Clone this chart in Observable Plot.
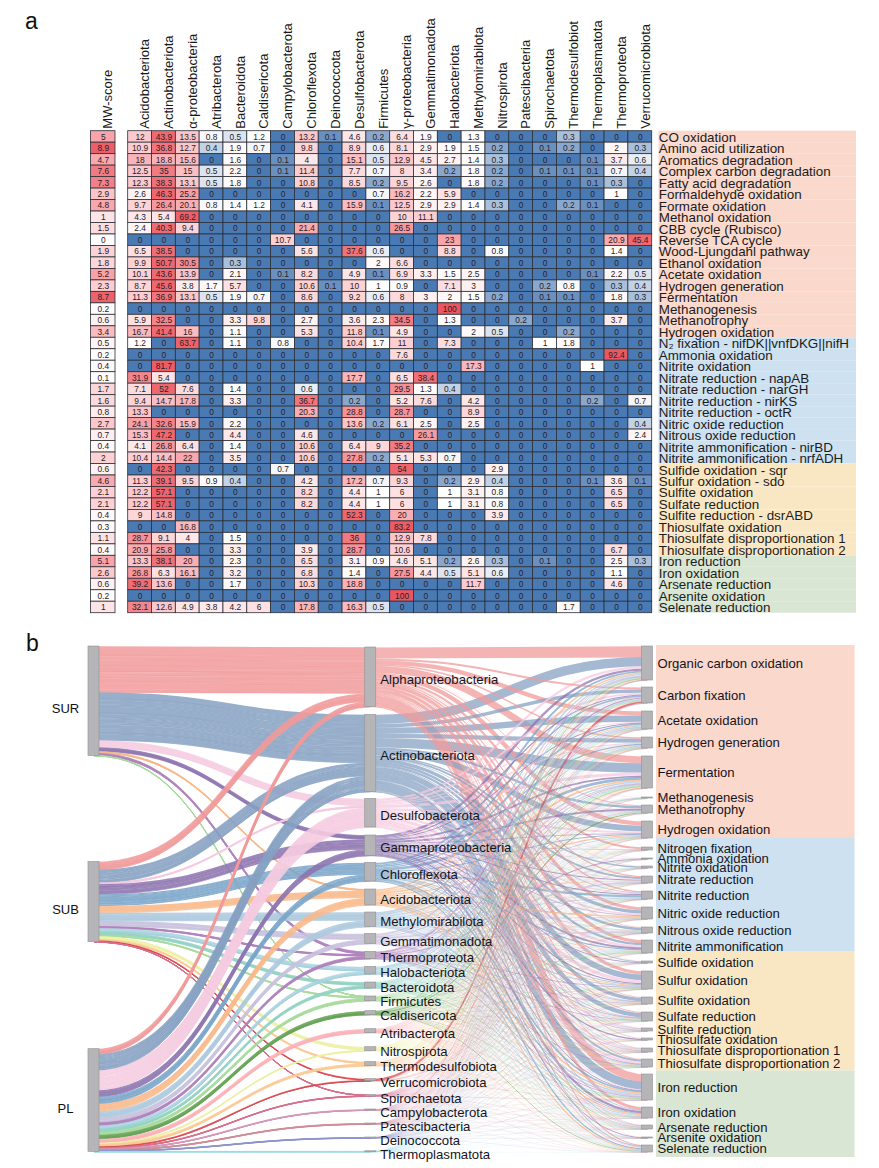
<!DOCTYPE html>
<html><head><meta charset="utf-8">
<script src="https://cdn.jsdelivr.net/npm/d3@7"></script>
<script src="https://cdn.jsdelivr.net/npm/@observablehq/plot@0.6"></script>
<style>
html,body{margin:0;padding:0;background:#fff}
#page{position:relative;width:879px;height:1168px;overflow:hidden;font-family:"Liberation Sans",Arial,sans-serif}
.letter{position:absolute;font-size:23px;line-height:23px;color:#111}
</style></head><body><div id="page"></div>
<script>
// ---------- DATA ----------
const heatColumns=["Acidobacteriota","Actinobacteriota","α-proteobacteria","Atribacterota","Bacteroidota","Caldisericota","Campylobacterota","Chloroflexota","Deinococcota","Desulfobacterota","Firmicutes","γ-proteobacteria","Gemmatimonadota","Halobacteriota","Methylomirabilota","Nitrospirota","Patescibacteria","Spirochaetota","Thermodesulfobiot","Thermoplasmatota","Thermoproteota","Verrucomicrobiota"];
const pathways=["CO oxidation","Amino acid utilization","Aromatics degradation","Complex carbon degradation","Fatty acid degradation","Formaldehyde oxidation","Formate oxidation","Methanol oxidation","CBB cycle (Rubisco)","Reverse TCA cycle","Wood-Ljungdahl pathway","Ethanol oxidation","Acetate oxidation","Hydrogen generation","Fermentation","Methanogenesis","Methanotrophy","Hydrogen oxidation","N₂ fixation - nifDK||vnfDKG||nifH","Ammonia oxidation","Nitrite oxidation","Nitrate reduction - napAB","Nitrate reduction - narGH","Nitrite reduction - nirKS","Nitrite reduction - octR","Nitric oxide reduction","Nitrous oxide reduction","Nitrite ammonification - nirBD","Nitrite ammonification - nrfADH","Sulfide oxidation - sqr","Sulfur oxidation - sdo","Sulfite oxidation","Sulfate reduction","Sulfite reduction - dsrABD","Thiosulfate oxidation","Thiosulfate disproportionation 1","Thiosulfate disproportionation 2","Iron reduction","Iron oxidation","Arsenate reduction","Arsenite oxidation","Selenate reduction"];
const mwScore=[5,8.9,4.7,7.6,7.3,2.9,4.8,1,1.5,0,1.9,1.8,5.2,2.3,8.7,0.2,0.6,3.4,0.5,0.2,0.4,0.1,1.7,1.6,0.8,2.7,0.7,0.4,2,0.6,4.6,2.1,2.1,0.4,0.3,1.1,0.4,5.1,2.6,0.6,0.2,1];
const percentRows=[
[12,43.9,13.5,0.8,0.5,1.2,0,13.2,0.1,4.6,0.2,6.4,1.9,0,1.3,0,0,0,0.3,0,0,0],
[10.9,36.8,12.7,0.4,1.9,0.7,0,9.8,0,8.9,0.6,8.1,2.9,1.9,1.5,0.2,0,0.1,0.2,0,2,0.3],
[18,18.8,15.6,0,1.6,0,0.1,4,0,15.1,0.5,12.9,4.5,2.7,1.4,0.3,0,0,0,0.1,3.7,0.6],
[12.5,35,15,0.5,2.2,0,0.1,11.4,0,7.7,0.7,8,3.4,0.2,1.8,0.2,0,0.1,0.1,0.1,0.7,0.4],
[12.3,38.3,13.1,0.5,1.8,0,0,10.8,0,8.5,0.2,9.5,2.6,0,1.8,0.2,0,0,0,0.1,0.3,0],
[2.6,46.3,25.2,0,0,0,0,0,0,0,0.7,16.2,2.2,5.9,0,0,0,0,0,0,1,0],
[9.7,26.4,20.1,0.8,1.4,1.2,0,4.1,0,15.9,0.1,12.5,2.9,2.9,1.4,0.3,0,0,0.2,0.1,0,0],
[4.3,5.4,69.2,0,0,0,0,0,0,0,0,10,11.1,0,0,0,0,0,0,0,0,0],
[2.4,40.3,9.4,0,0,0,0,21.4,0,0,0,26.5,0,0,0,0,0,0,0,0,0,0],
[0,0,0,0,0,0,10.7,0,0,0,0,0,0,23,0,0,0,0,0,0,20.9,45.4],
[6.5,38.5,0,0,0,0,0,5.6,0,37.6,0.6,0,0,8.8,0,0.8,0,0,0,0,1.4,0],
[9.9,50.7,30.5,0,0.3,0,0,0,0,0,2,6.6,0,0,0,0,0,0,0,0,0,0],
[10.1,43.6,13.9,0,2.1,0,0.1,8.2,0,4.9,0.1,6.9,3.3,1.5,2.5,0,0,0,0,0.1,2.2,0.5],
[8.7,45.6,3.8,1.7,5.7,0,0,10.6,0.1,10,1,0.9,0,7.1,3,0,0,0.2,0.8,0,0.3,0.4],
[11.3,36.9,13.1,0.5,1.9,0.7,0,8.6,0,9.2,0.6,8,3,2,1.5,0.2,0,0.1,0.1,0,1.8,0.3],
[0,0,0,0,0,0,0,0,0,0,0,0,0,100,0,0,0,0,0,0,0,0],
[5.9,32.5,0,0,3.3,9.8,0,2.7,0,3.6,2.3,34.5,0,1.3,0,0,0.2,0,0,0,3.7,0],
[16.7,41.4,16,0,1.1,0,0,5.3,0,11.8,0.1,4.9,0,0,2,0.5,0,0,0.2,0,0,0],
[1.2,0,63.7,0,1.1,0,0.8,0,0,10.4,1.7,11,0,7.3,0,0,0,1,1.8,0,0,0],
[0,0,0,0,0,0,0,0,0,0,0,7.6,0,0,0,0,0,0,0,0,92.4,0],
[0,81.7,0,0,0,0,0,0,0,0,0,0,0,0,17.3,0,0,0,0,1,0,0],
[31.9,5.4,0,0,0,0,0,0,0,17.7,0,6.5,38.4,0,0,0,0,0,0,0,0,0],
[7.1,52,7.6,0,1.4,0,0,0.6,0,0,0,29.5,1.3,0.4,0,0,0,0,0,0,0,0],
[9.4,14.7,17.8,0,3.3,0,0,36.7,0,0.2,0,5.2,7.6,0,4.2,0,0,0,0,0.2,0,0.7],
[13.3,0,0,0,0,0,0,20.3,0,28.8,0,28.7,0,0,8.9,0,0,0,0,0,0,0],
[24.1,32.6,15.9,0,2.2,0,0,0,0,13.6,0.2,6.1,2.5,0,2.5,0,0,0,0,0,0,0.4],
[15.3,47.2,0,0,4.4,0,0,4.6,0,0,0,0,26.1,0,0,0,0,0,0,0,0,2.4],
[4.1,26.8,6.4,0,1.4,0,0,10.6,0,6.4,9,35.2,0,0,0,0,0,0,0,0,0,0],
[10.4,14.4,22,0,3.5,0,0,10.6,0,27.8,0.2,5.1,5.3,0.7,0,0,0,0,0,0,0,0],
[0,42.3,0,0,0,0,0.7,0,0,0,0,54,0,0,0,2.9,0,0,0,0,0,0],
[11.3,39.1,9.5,0.9,0.4,0,0,4.2,0,17.2,0.7,9.3,0,0.2,2.9,0.4,0,0,0,0.1,3.6,0.1],
[12.2,57.1,0,0,0,0,0,8.2,0,4.4,1,6,0,1,3.1,0.8,0,0,0,0,6.5,0],
[12.2,57.1,0,0,0,0,0,8.2,0,4.4,1,6,0,1,3.1,0.8,0,0,0,0,6.5,0],
[9,14.8,0,0,0,0,0,0,0,52.3,0,20,0,0,0,3.9,0,0,0,0,0,0],
[0,0,16.8,0,0,0,0,0,0,0,0,83.2,0,0,0,0,0,0,0,0,0,0],
[28.7,9.1,4,0,1.5,0,0,0,0,36,0,12.9,7.8,0,0,0,0,0,0,0,0,0],
[20.9,25.8,0,0,3.3,0,0,3.9,0,28.7,0,10.6,0,0,0,0,0,0,0,0,6.7,0],
[13.3,38.1,20,0,2.3,0,0,6.5,0,3.1,0.9,4.6,5.1,0.2,2.6,0.3,0,0.1,0,0,2.5,0.3],
[26.8,6.3,16.1,0,3.2,0,0,6.8,0,1.4,0,27.5,4.4,0.5,5.1,0.6,0,0,0,0,1.1,0],
[39.2,13.6,0,0,1.7,0,0,10.3,0,18.8,0,0,0,0,11.7,0,0,0,0,0,4.6,0],
[0,0,0,0,0,0,0,0,0,0,0,100,0,0,0,0,0,0,0,0,0,0],
[32.1,12.6,4.9,3.8,4.2,6,0,17.8,0,16.3,0.5,0,0,0,0,0,0,0,1.7,0,0,0]
];
const pathwayGroupEnds=[18,29,37,42];
const groupNames=["Carbon","Nitrogen","Sulfur","Other"];

const sites=["SUR","SUB","PL"];
const sankeyPhyla=["Alphaproteobacteria","Actinobacteriota","Desulfobacterota","Gammaproteobacteria","Chloroflexota","Acidobacteriota","Methylomirabilota","Gemmatimonadota","Thermoproteota","Halobacteriota","Bacteroidota","Firmicutes","Caldisericota","Atribacterota","Nitrospirota","Thermodesulfobiota","Verrucomicrobiota","Spirochaetota","Campylobacterota","Patescibacteria","Deinococcota","Thermoplasmatota"];
const phylumHeatColumn=[2,1,9,11,7,0,14,12,20,13,4,10,5,3,15,18,21,17,6,16,8,19];
const surFlow=[46,48,7,4,0,1.5,0,0,2.5,0,0,0.5,0,0,0,0,0,0,0,0,0,0];
const subFlow=[8,13,1.5,10,11.5,7,8,5.5,1.5,4,3,1.2,0,0,3,1.5,1,0.5,0,0,0,0];
const plFlow=[5.5,16,20,6.5,7,7.5,6.5,4.5,3,3.5,3,3,4,4,1,2.5,1,0.8,1,1,0.8,0.6];
const functions=["Organic carbon oxidation","Carbon fixation","Acetate oxidation","Hydrogen generation","Fermentation","Methanogenesis","Methanotrophy","Hydrogen oxidation","Nitrogen fixation","Ammonia oxidation","Nitrite oxidation","Nitrate reduction","Nitrite reduction","Nitric oxide reduction","Nitrous oxide reduction","Nitrite ammonification","Sulfide oxidation","Sulfur oxidation","Sulfite oxidation","Sulfate reduction","Sulfite reduction","Thiosulfate oxidation","Thiosulfate disproportionation 1","Thiosulfate disproportionation 2","Iron reduction","Iron oxidation","Arsenate reduction","Arsenite oxidation","Selenate reduction"];
const functionSize=[34,16,18,11,32,1,8,17,3,1,2,7,8,12,6,13,2,18,7,9,3,2,4,8,26,11,4,1,7];
const functionRows=[[0,1,2,3,4,5,6,7,11],[8,9,10],[12],[13],[14],[15],[16],[17],[18],[19],[20],[21,22],[23,24],[25],[26],[27,28],[29],[30],[31],[32],[33],[34],[35],[36],[37],[38],[39],[40],[41]];
const functionGroupEnds=[8,16,24,29];

// ---------- STYLE / LAYOUT ----------
const FONT='"Liberation Sans",Arial,sans-serif';
const phylumColors=["#f19a9a","#86a1c2","#f5cbe0","#8e76b0","#7aa5c9","#f9b98a","#adc9de","#c9c3de","#b184bd","#a9d2de","#94d3c4","#aadb9f","#68a458","#fbb2b8","#eef1a8","#fbcb98","#d9494f","#d8708f","#d39ab8","#cf8f9a","#8e95cc","#a3dde6"];
const groupColors=["#fad8cb","#cde1f0","#f9e7c4","#d8e6d3"];
const phylumGaps=[8,7,8,7,8,7,7,8,8,8,8,10,14,14,11,13,14,13,13,13,13];
const siteGaps=[106,107];
const functionGaps=[7,8,8,8,9,7,8,9,8,7,8,8,8,8,7,8,8,8,8,7,7,8,7,7,7,7,8,7];
const bandBreakShift=[0,-2,3.5];
const layer={site:0,phylum:1,fn:2};
const half=0.02;
const page=document.getElementById("page");
const place=(s)=>{page.appendChild(s);};
const svgStyle={background:"transparent",position:"absolute",left:"0px",top:"0px",maxWidth:"none",fontFamily:FONT};

// ---------- PANEL A ----------
const cellRows=[];
percentRows.forEach((r,i)=>r.forEach((v,j)=>cellRows.push({pathway:pathways[i],column:heatColumns[j],v})));
const mwRows=pathways.map((p,i)=>({pathway:p,column:"MW-score",v:mwScore[i]}));
const groupOf=i=>groupNames[pathwayGroupEnds.findIndex(e=>i<e)];
const labelRows=pathways.map((p,i)=>({pathway:p,column:"label",group:groupOf(i)}));
const cellStroke="#2c3038";
const heatDomain=[0,0.1,0.2,0.3,0.5,0.7,1,2,4,10,15,25,40,100];
const heatRange=["#4a7ab4","#6a90c0","#8aa8ce","#a8c0dc","#dce5ef","#f4f6fa","#ffffff","#fff8f8","#fde8e9","#fcd2d5","#fbbec2","#f79ea4","#ef6a72","#e95660"];
const mwDomain=[0,0.4,1,2,3,5,7.6,9];
const mwRange=["#ffffff","#fff8f8","#fde4e6","#fcd2d5","#fbc2c6","#f8a4aa","#f27b83","#ec5c66"];
const bandY={domain:pathways,padding:0,round:false,axis:null};
const headerText=(cols)=>Plot.text(cols,{x:d=>d,frameAnchor:"top",rotate:-90,textAnchor:"start",dy:-2.5,fontSize:13,fill:"#1a1a1a",fontFamily:FONT});

place(Plot.plot({width:879,height:625,style:svgStyle,marginTop:130.7,marginBottom:12.3,marginLeft:127.7,marginRight:227.3,
  x:{domain:heatColumns,padding:0,round:false,axis:null},
  y:bandY,
  color:{type:"linear",domain:heatDomain,range:heatRange},
  marks:[
    Plot.cell(cellRows,{x:"column",y:"pathway",fill:"v",stroke:cellStroke,strokeWidth:0.8}),
    Plot.text(cellRows,{x:"column",y:"pathway",text:d=>String(d.v),fontSize:8.4,fill:"#2a2226",fontFamily:FONT}),
    headerText(heatColumns)
  ]}));

place(Plot.plot({width:879,height:625,style:svgStyle,marginTop:130.7,marginBottom:12.3,marginLeft:90.5,marginRight:764,
  x:{domain:["MW-score"],padding:0,round:false,axis:null},
  y:bandY,
  color:{type:"linear",domain:mwDomain,range:mwRange},
  marks:[
    Plot.cell(mwRows,{x:"column",y:"pathway",fill:"v",stroke:cellStroke,strokeWidth:0.8}),
    Plot.text(mwRows,{x:"column",y:"pathway",text:d=>String(d.v),fontSize:8.4,fill:"#2a2226",fontFamily:FONT}),
    headerText(["MW-score"])
  ]}));

place(Plot.plot({width:879,height:625,style:svgStyle,marginTop:130.7,marginBottom:12.3,marginLeft:658.5,marginRight:23,
  x:{domain:["label"],padding:0,round:false,axis:null},
  y:bandY,
  color:{domain:groupNames,range:groupColors},
  marks:[
    Plot.cell(labelRows,{x:"column",y:"pathway",fill:"group"}),
    Plot.text(labelRows,{x:"column",y:"pathway",text:"pathway",textAnchor:"start",dx:-99,dy:0.5,fontSize:13.4,fill:"#1c1c1c",fontFamily:FONT})
  ]}));

// ---------- PANEL B (sankey layout computed from the flows) ----------
const siteFlow=[surFlow,subFlow,plFlow];
const phylumSize=sankeyPhyla.map((_,i)=>d3.sum(siteFlow,f=>f[i]));
const stackTops=(sizes,start,gaps)=>{let y=start;return sizes.map((s,i)=>{const t=y;y+=s+(gaps[i]||0);return t;});};
const siteSize=siteFlow.map(f=>d3.sum(f));
const siteTop=stackTops(siteSize,8,siteGaps);
const phylumTop=stackTops(phylumSize,9,phylumGaps);
const functionTop=stackTops(functionSize,8,functionGaps);

// phylum→function flows from the percent rows; what a phylum still carries
// beyond the table is spread as thin strands over all functions
const totalFn=d3.sum(functionSize);
const rawFlow=sankeyPhyla.map((_,i)=>functions.map((_,j)=>functionSize[j]*d3.mean(functionRows[j],r=>percentRows[r][phylumHeatColumn[i]])/100));
const phylumFlow=rawFlow.map((row,i)=>{
  const s=d3.sum(row);
  if(s>=phylumSize[i])return row.map(v=>v*phylumSize[i]/s);
  const extra=phylumSize[i]-s;
  return row.map((v,j)=>v+extra*functionSize[j]/totalFn);
});

const leftLinks=[];
const siteCursor=siteTop.slice();
const phylumCursor=phylumTop.slice();
sites.forEach((site,s)=>{
  sankeyPhyla.forEach((ph,i)=>{
    const total=d3.sum(phylumFlow[i])||1;
    functions.forEach((fn,j)=>{
      const w=siteFlow[s][i]*phylumFlow[i][j]/total;
      if(w<=0)return;
      leftLinks.push({phylum:ph,w:w+0.3,y1:siteCursor[s]+w/2,y2:phylumCursor[i]+w/2});
      siteCursor[s]+=w;phylumCursor[i]+=w;
    });
  });
});
const rightLinks=[];
const phyOut=phylumTop.slice();
const fnScale=functions.map((_,j)=>functionSize[j]/(d3.sum(phylumFlow,r=>r[j])||1));
sankeyPhyla.forEach((ph,i)=>{
  functions.forEach((fn,j)=>{
    const w=phylumFlow[i][j];
    if(w<=0)return;
    let before=0;for(let k=0;k<i;k++)before+=phylumFlow[k][j];
    const w2=w*fnScale[j];
    rightLinks.push({phylum:ph,w:(w+w2)/2+0.15,y1:phyOut[i]+w/2,y2:functionTop[j]+before*fnScale[j]+w2/2});
    phyOut[i]+=w;
  });
});
rightLinks.sort((a,b)=>b.w-a.w);
const nodes=[
  ...sites.map((n,i)=>({n,l:layer.site,y1:siteTop[i],y2:siteTop[i]+siteSize[i]})),
  ...sankeyPhyla.map((n,i)=>({n,l:layer.phylum,y1:phylumTop[i],y2:phylumTop[i]+Math.max(phylumSize[i],1)})),
  ...functions.map((n,i)=>({n,l:layer.fn,y1:functionTop[i],y2:functionTop[i]+functionSize[i]}))
];
const bands=functionGroupEnds.map((e,g)=>{
  const prevEnd=g?functionGroupEnds[g-1]:0;
  const top=g?functionTop[prevEnd-1]+functionSize[prevEnd-1]+bandBreakShift[g-1]:7;
  const bottom=functionTop[e-1]+functionSize[e-1]+(g<3?bandBreakShift[g]:5);
  return {group:groupNames[g],y1:top,y2:bottom,x1:layer.fn+0.0325,x2:layer.fn+0.75};
});
const mid=d=>(d.y1+d.y2)/2;
place(Plot.plot({width:879,height:530,style:{...svgStyle,top:"638px"},margin:0,
  x:{domain:[0,2],range:[93.5,647],axis:null},
  y:{domain:[0,530],range:[0,530],axis:null},
  color:{domain:sankeyPhyla,range:phylumColors},
  marks:[
    Plot.rect(bands,{x1:"x1",x2:"x2",y1:"y1",y2:"y2",fill:d=>groupColors[groupNames.indexOf(d.group)]}),
    Plot.link(leftLinks,{x1:()=>layer.site,x2:()=>layer.phylum,y1:"y1",y2:"y2",curve:"bump-x",stroke:"phylum",strokeWidth:"w",strokeOpacity:0.85}),
    Plot.link(rightLinks,{x1:()=>layer.phylum,x2:()=>layer.fn,y1:"y1",y2:"y2",curve:"bump-x",stroke:"phylum",strokeWidth:"w",strokeOpacity:0.74}),
    Plot.rect(nodes,{x1:d=>d.l-half,x2:d=>d.l+half,y1:"y1",y2:"y2",fill:"#b5b5b7",stroke:"#929294",strokeWidth:0.6}),
    Plot.text(nodes.filter(d=>d.l==1),{x:"l",y:d=>mid(d)+2.5,text:"n",dx:9.5,textAnchor:"start",fontSize:13.2,fill:"#15151c",fontFamily:FONT}),
    Plot.text(nodes.filter(d=>d.l==2),{x:"l",y:d=>mid(d)+0.2,text:"n",dx:10,textAnchor:"start",fontSize:13.1,fill:"#15151c",fontFamily:FONT}),
    Plot.text(nodes.filter(d=>d.l==0),{x:"l",y:d=>mid(d)+8,text:"n",dx:-28.5,textAnchor:"middle",fontSize:13,fill:"#111",fontFamily:FONT})
  ]}));

// panel letters
[["a",25,10],["b",26,632]].forEach(([t,l,y])=>{const d=document.createElement("div");d.className="letter";d.textContent=t;d.style.left=l+"px";d.style.top=y+"px";page.appendChild(d);});
</script></body></html>
